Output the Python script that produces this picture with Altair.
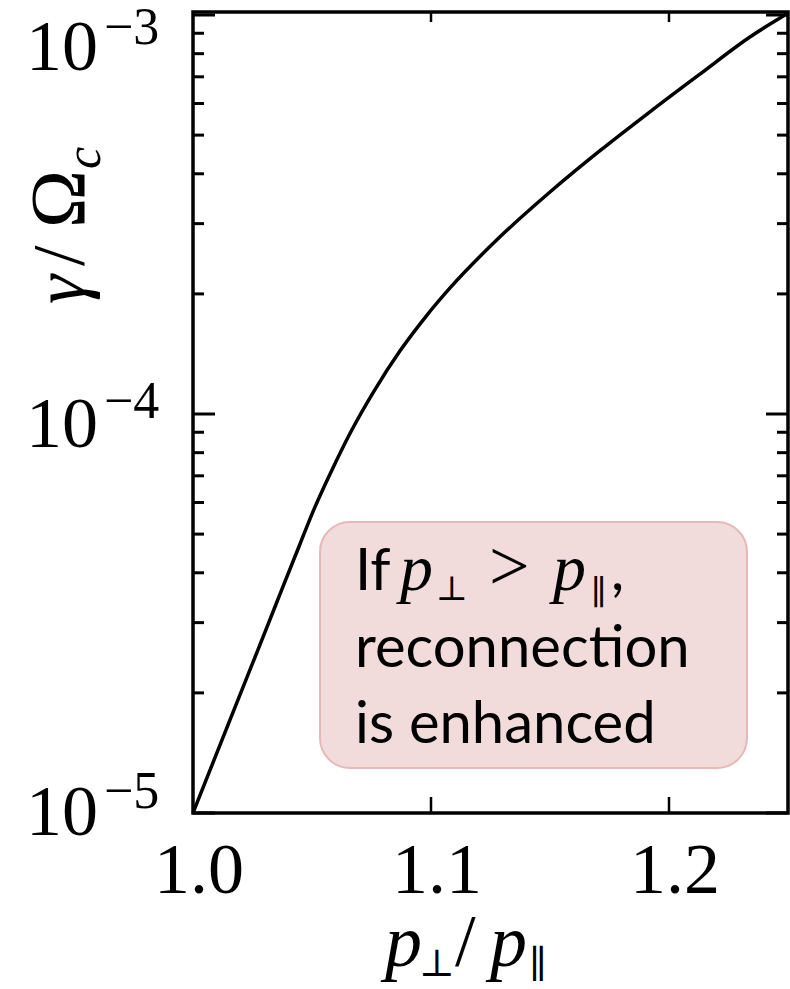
import altair as alt
import pandas as pd

# ---- data ----
ratio = [1.000, 1.0155, 1.024, 1.035, 1.045, 1.051, 1.058, 1.066, 1.076, 1.087,
         1.098, 1.108, 1.129, 1.150, 1.171, 1.192, 1.213, 1.234, 1.250]
growth = [1.00e-5, 1.71e-5, 2.29e-5, 3.35e-5, 4.73e-5, 5.8e-5, 7.16e-5, 8.95e-5, 1.14e-4, 1.44e-4,
          1.76e-4, 2.07e-4, 2.78e-4, 3.6e-4, 4.57e-4, 5.72e-4, 7.11e-4, 8.81e-4, 1.01e-3]

y_major = [1e-3, 1e-4, 1e-5]
y_exps = ["\u22123", "\u22124", "\u22125"]
y_minor = [2e-5, 3e-5, 4e-5, 5e-5, 6e-5, 7e-5, 8e-5, 9e-5,
           2e-4, 3e-4, 4e-4, 5e-4, 6e-4, 7e-4, 8e-4, 9e-4]
x_ticks = [1.0, 1.1, 1.2]
x_tick_labels = ["1.0", "1.1", "1.2"]
x_inner_ticks = [1.1, 1.2]

# ---- layout ----
OX, OY = 193, 12          # plot origin on the page
W, H = 595, 801
SERIF = "Liberation Serif"
SANS = "Lato"

xscale = alt.Scale(domain=[1.0, 1.25], nice=False, zero=False)
yscale = alt.Scale(type="log", domain=[1e-5, 1.0175e-3], nice=False)

curve = alt.Chart(pd.DataFrame({"r": ratio, "g": growth})).mark_line(
    color="black", strokeWidth=3.5, interpolate="monotone"
).encode(
    x=alt.X("r:Q", scale=xscale, axis=None),
    y=alt.Y("g:Q", scale=yscale, axis=None),
)

def yticks(vals, x0, x1):
    return alt.Chart(pd.DataFrame({"v": vals})).mark_rule(color="black", strokeWidth=3).encode(
        y=alt.Y("v:Q", scale=yscale, axis=None), x=alt.value(x0), x2=alt.value(x1))

def xticks(vals, y0, y1):
    return alt.Chart(pd.DataFrame({"v": vals})).mark_rule(color="black", strokeWidth=2.5).encode(
        x=alt.X("v:Q", scale=xscale, axis=None), y=alt.value(y0), y2=alt.value(y1))

ticks = [
    yticks(y_major, 0, 22), yticks(y_minor, 0, 11),
    yticks(y_major, W - 22, W), yticks(y_minor, W - 11, W),
    xticks(x_inner_ticks, H, H - 16), xticks(x_inner_ticks, 0, 10),
]

def txt(text, X, Y, size, font=SERIF, style="normal", align="left", angle=0):
    return alt.Chart(pd.DataFrame({"t": [text]})).mark_text(
        font=font, fontSize=size, fontStyle=style, align=align,
        baseline="alphabetic", angle=angle, color="black"
    ).encode(x=alt.value(X - OX), y=alt.value(Y - OY), text="t:N")

# y tick labels (10 with superscript exponent), placed through the y scale
ylabels = []
ydf = pd.DataFrame({"v": y_major, "e": y_exps, "b": ["10"] * 3})
offsets = {1e-3: (55, 29), 1e-4: (33, 4), 1e-5: (22, -5)}
for v in y_major:
    d10, dexp = offsets[v]
    sub = alt.Chart(ydf).transform_filter(alt.datum.v == v)
    ylabels.append(sub.mark_text(font=SERIF, fontSize=72, align="left", baseline="alphabetic",
                                 dy=d10, color="black").encode(
        y=alt.Y("v:Q", scale=yscale, axis=None), x=alt.value(26 - OX), text="b:N"))
    ylabels.append(sub.mark_text(font=SERIF, fontSize=52, align="left", baseline="alphabetic",
                                 dy=dexp, color="black").encode(
        y=alt.Y("v:Q", scale=yscale, axis=None), x=alt.value(104 - OX), text="e:N"))

# x tick labels through the x scale
xlab = alt.Chart(pd.DataFrame({"v": x_ticks, "l": x_tick_labels})).mark_text(
    font=SERIF, fontSize=72, align="center", baseline="alphabetic", dx=6, color="black"
).encode(x=alt.X("v:Q", scale=xscale, axis=None), y=alt.value(893 - OY), text="l:N")

# axis titles
xtitle = [
    txt("p", 385, 966, 74, style="italic"),
    txt("\u22a5", 419, 976, 38, font="DejaVu Serif"),
    txt("/", 455, 966, 74),
    txt("p", 490, 966, 74, style="italic"),
    txt("\u2225", 529, 977, 38, font="DejaVu Serif"),
]
ytitle = [
    txt("\u03b3", 84, 304, 74, style="italic", angle=270),
    txt("/", 84, 266, 74, angle=270),
    txt("\u03a9", 84, 228, 78, angle=270),
    txt("c", 100, 169, 50, style="italic", angle=270),
]

# annotation box
box = alt.Chart(pd.DataFrame({"t": [""]})).mark_rect(
    fill="#F2DCDB", stroke="#E6B9B8", strokeWidth=2, cornerRadius=30
).encode(x=alt.value(320 - OX), x2=alt.value(747 - OX), y=alt.value(522 - OY), y2=alt.value(768 - OY))

box_text = [
    txt("If", 355, 590, 58, font=SANS),
    txt("p", 400, 590, 66, style="italic"),
    txt("\u22a5", 436, 600, 34, font="DejaVu Serif"),
    txt(">", 489, 590, 72),
    txt("p", 553, 590, 66, style="italic"),
    txt("\u2225", 591, 604, 34, font="DejaVu Serif"),
    txt(",", 611, 590, 58, font=SANS),
    txt("reconnection", 355, 667, 58, font=SANS),
    txt("is enhanced", 355, 743, 58, font=SANS),
]

chart = alt.layer(
    box, *box_text, curve, *ticks, *ylabels, xlab, *xtitle, *ytitle
).properties(
    width=W, height=H,
    autosize=alt.AutoSizeParams(type="none"),
    padding={"left": OX, "top": OY, "right": 790 - OX - W, "bottom": 989 - OY - H},
    background="white",
).configure_view(stroke="black", strokeWidth=3.5)

chart.save("out.html", embed_options={"renderer": "svg", "actions": False})
